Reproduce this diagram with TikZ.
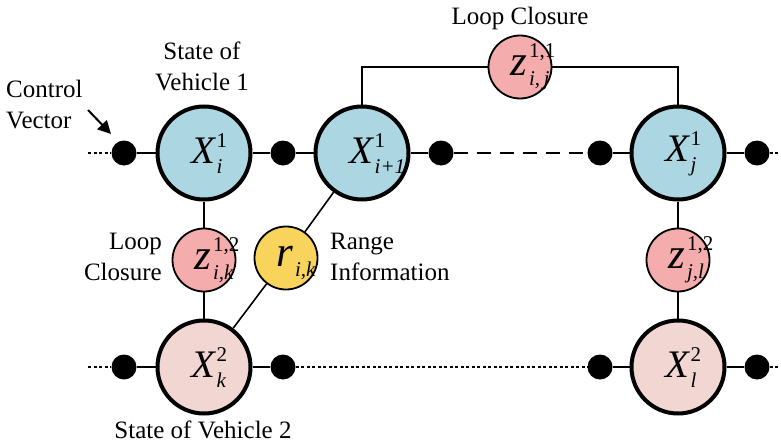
\documentclass[tikz,border=0pt]{standalone}
\usepackage{fontspec}
\setmainfont{Liberation Serif}
\usetikzlibrary{arrows.meta}
\definecolor{stateblue}{RGB}{172,214,226}
\definecolor{statepink}{RGB}{242,214,210}
\definecolor{loopred}{RGB}{245,172,172}
\definecolor{rangeyellow}{RGB}{248,212,92}
% italic symbol with stacked upright superscript and italic subscript
% #1 base size, #2 symbol, #3 superscript, #4 subscript, #5 raise, #6 drop
\newcommand{\stacksym}[6]{%
  {\fontsize{#1}{#1}\selectfont\itshape #2}\kern1.5pt%
  \sbox0{\fontsize{21}{21}\selectfont #3}%
  \sbox2{\fontsize{21}{21}\selectfont\itshape #4}%
  \rlap{\raisebox{#5}{\usebox0}}\rlap{\raisebox{-#6}{\usebox2}}%
  \rule{0pt}{31pt}%
  \ifdim\wd0>\wd2 \hspace{\wd0}\else\hspace{\wd2}\fi}
\newcommand{\bigsym}[3]{\stacksym{39}{#1}{#2}{#3}{16pt}{10pt}}
\newcommand{\smallsym}[3]{\stacksym{43}{#1}{#2}{#3}{18pt}{10pt}}
\begin{document}
\begin{tikzpicture}[x=1pt,y=-1pt,
  statenode/.style={circle,draw,line width=4pt,minimum size=93pt,inner sep=0pt},
  factornode/.style={circle,draw,line width=1.8pt,minimum size=63pt,inner sep=0pt},
  ctrl/.style={circle,fill=black,minimum size=25pt,inner sep=0pt},
  link/.style={line width=1.6pt},
  dots/.style={line width=1.6pt,dash pattern=on 3pt off 2.5pt},
  label/.style={font=\fontsize{25}{31}\selectfont,align=center,inner sep=0pt}]
\useasboundingbox (0,0) rectangle (781,444);

% vehicle 1 chain
\node[statenode,fill=stateblue] (xi) at (204,153) {\bigsym{X}{1}{i}};
\node[statenode,fill=stateblue] (xi1) at (362,153) {\bigsym{X}{1}{i+1}};
\node[statenode,fill=stateblue] (xj) at (678,153) {\bigsym{X}{1}{j}};
\node[ctrl] (c0) at (124,153) {};
\node[ctrl] (c1) at (283,153) {};
\node[ctrl] (c2) at (441,153) {};
\node[ctrl] (c3) at (600,153) {};
\node[ctrl] (c4) at (757,153) {};
\coordinate (l0) at (88,153);
\coordinate (r0) at (781,153);

% vehicle 2 chain
\node[statenode,fill=statepink] (xk) at (204,367) {\bigsym{X}{2}{k}};
\node[statenode,fill=statepink] (xl) at (678,367) {\bigsym{X}{2}{l}};
\node[ctrl] (d0) at (124,367) {};
\node[ctrl] (d1) at (283,367) {};
\node[ctrl] (d2) at (600,367) {};
\node[ctrl] (d3) at (757,367) {};
\coordinate (l1) at (88,367);
\coordinate (r1) at (781,367);

% measurement factors
\node[factornode,fill=loopred] (zij) at (520,67) {\smallsym{z}{1,1}{i,\,j}};
\node[factornode,fill=loopred] (zik) at (204,260) {\smallsym{z}{1,2}{i,k}};
\node[factornode,fill=loopred] (zjl) at (678,260) {\smallsym{z}{1,2}{j,l}};
\node[factornode,fill=rangeyellow] (rik) at (286,258) {\smallsym{r}{}{i,k}};

% connectors
\draw[dots] (l0) -- (c0);
\draw[link] (c0) -- (xi) -- (c1) -- (xi1) -- (c2);
\draw[link,dash pattern=on 14pt off 9pt] (c2) -- (c3);
\draw[link] (c3) -- (xj) -- (c4);
\draw[dots] (c4) -- (r0);
\draw[dots] (l1) -- (d0);
\draw[link] (d0) -- (xk) -- (d1);
\draw[dots] (d1) -- (d2);
\draw[link] (d2) -- (xl) -- (d3);
\draw[dots] (d3) -- (r1);
\draw[link] (xi) -- (zik) -- (xk);
\draw[link] (xj) -- (zjl) -- (xl);
\draw[link] (xk) -- (rik) -- (xi1);
\draw[link] (xi1) |- (zij) -| (xj);

% captions
\node[label] (t1) at (202,66) {State of\\Vehicle 1};
\node[label,align=left,anchor=west] (t2) at (6,105) {Control\\Vector};
\coordinate (arrowstart) at (88,110);
\coordinate (arrowend) at (111,134);
\draw[line width=2pt,-{Triangle[length=13pt,width=13pt]}] (arrowstart) -- (arrowend);
\node[label,align=right,anchor=east] (t3) at (162,257) {Loop\\Closure};
\node[label,align=left,anchor=west] (t4) at (330,257) {Range\\Information};
\node[label] (t5) at (520,18) {Loop Closure};
\node[label] (t6) at (203,430) {State of Vehicle 2};
\end{tikzpicture}
\end{document}
